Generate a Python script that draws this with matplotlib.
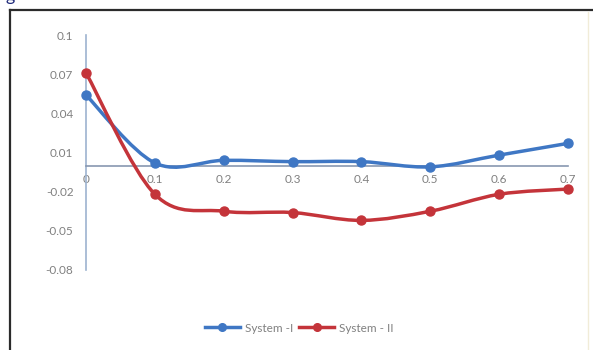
import numpy as np
import matplotlib
matplotlib.use("Agg")
import matplotlib.pyplot as plt
from matplotlib.path import Path
from matplotlib.patches import PathPatch
from matplotlib.lines import Line2D

# data
x_vals = [0, 0.1, 0.2, 0.3, 0.4, 0.5, 0.6, 0.7]
system_1 = [0.054, 0.002, 0.004, 0.003, 0.003, -0.001, 0.008, 0.017]
system_2 = [0.071, -0.022, -0.035, -0.036, -0.042, -0.035, -0.022, -0.018]
y_ticks = [-0.08, -0.05, -0.02, 0.01, 0.04, 0.07, 0.1]
x_ticks = [0, 0.1, 0.2, 0.3, 0.4, 0.5, 0.6, 0.7]
labels = ['System -I', 'System - II']

BLUE = '#3f77c4'
RED = '#c4343a'
GREY = '#808080'
plt.rcParams['font.family'] = ['Lato', 'DejaVu Sans']


def smooth_path(xs, ys):
    """Excel-like smoothed line: cubic Bezier through the points (Catmull-Rom)."""
    pts = np.column_stack([xs, ys])
    n = len(pts)
    verts = [pts[0]]
    codes = [Path.MOVETO]
    for i in range(n - 1):
        p0 = pts[max(i - 1, 0)]
        p1 = pts[i]
        p2 = pts[i + 1]
        p3 = pts[min(i + 2, n - 1)]
        c1 = p1 + (p2 - p0) / 6.0
        c2 = p2 - (p3 - p1) / 6.0
        verts += [c1, c2, p2]
        codes += [Path.CURVE4] * 3
    return Path(verts, codes)


fig = plt.figure(figsize=(5.93, 3.5), dpi=100)
W, H = 593, 350

# frame around the chart (scanned figure box)
fig.add_artist(Line2D([10 / W, 10 / W], [0, 1 - 10 / H], color='#2b2b2b', lw=1.6))
fig.add_artist(Line2D([10 / W, 1], [1 - 10 / H, 1 - 10 / H], color='#2b2b2b', lw=1.6))
fig.add_artist(Line2D([588 / W, 588 / W], [0, 1 - 12 / H], color='#f1ecd8', lw=1.0))
fig.text(5 / W, 1 - 1 / H, 'g', color='#1f2a7a', fontsize=13, ha='left', va='baseline')

ax = fig.add_axes([86 / W, 1 - 270 / H, (568 - 86) / W, (270 - 35) / H])
ax.set_xlim(0, 0.7)
ax.set_ylim(-0.08, 0.1)

for ys, col in [(system_1, BLUE), (system_2, RED)]:
    ax.add_patch(PathPatch(smooth_path(x_vals, ys), fill=False, edgecolor=col,
                           lw=2.5, clip_on=False, zorder=3))
    ax.plot(x_vals, ys, linestyle='none', marker='o', markersize=6.5,
            color=col, clip_on=False, zorder=4)

for s in ['top', 'right']:
    ax.spines[s].set_visible(False)
ax.spines['left'].set_color('#9db3cf')
ax.spines['left'].set_linewidth(1.2)
ax.spines['bottom'].set_position(('data', 0))
ax.spines['bottom'].set_color('#8797b0')
ax.spines['bottom'].set_linewidth(1.2)

ax.set_yticks(y_ticks)
ax.set_yticklabels(['-0.08', '-0.05', '-0.02', '0.01', '0.04', '0.07', '0.1'])
ax.set_xticks(x_ticks)
ax.set_xticklabels(['0', '0.1', '0.2', '0.3', '0.4', '0.5', '0.6', '0.7'])
ax.tick_params(length=0, labelsize=8.5, labelcolor=GREY)
ax.tick_params(axis='y', pad=9)
ax.tick_params(axis='x', pad=6)
ax.patch.set_visible(False)

handles = [Line2D([], [], color=BLUE, lw=2.5, marker='o', markersize=5.5),
           Line2D([], [], color=RED, lw=2.5, marker='o', markersize=5.5)]
fig.legend(handles, labels, loc='center', bbox_to_anchor=(299 / W, 1 - 328 / H),
           ncol=2, frameon=False, fontsize=8.5, labelcolor=GREY,
           handlelength=3.0, columnspacing=0.5, handletextpad=0.4)

fig.savefig('out.png', dpi=100)
